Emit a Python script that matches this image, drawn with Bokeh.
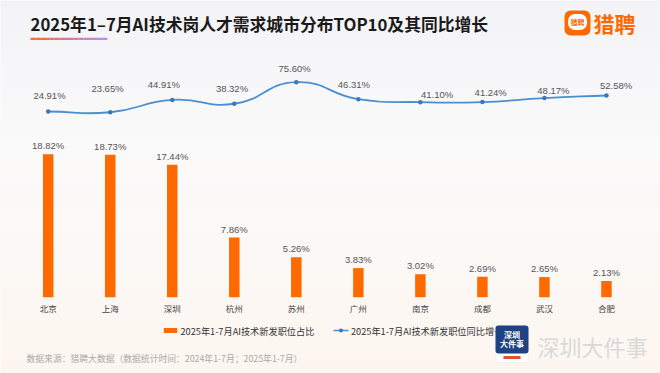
import numpy as np
from bokeh.plotting import figure
from bokeh.models import ColumnDataSource, LabelSet, Label, Range1d, BoxAnnotation
from bokeh.core.properties import value
from bokeh.embed import file_html
from bokeh.resources import INLINE

# ---------------- data ----------------
cities = ["北京", "上海", "深圳", "杭州", "苏州", "广州", "南京", "成都", "武汉", "合肥"]
share = [18.82, 18.73, 17.44, 7.86, 5.26, 3.83, 3.02, 2.69, 2.65, 2.13]
growth = [24.91, 23.65, 44.91, 38.32, 75.60, 46.31, 41.10, 41.24, 48.17, 52.58]
title_text = "2025年1–7月AI技术岗人才需求城市分布TOP10及其同比增长"
legend_bar = "2025年1-7月AI技术新发职位占比"
legend_line = "2025年1-7月AI技术新发职位同比增长"
source_note = "数据来源：猎聘大数据（数据统计时间：2024年1-7月；2025年1-7月）"

# ---------------- style / layout ----------------
W, H = 660, 373
XSTEP = 62.03          # px per category
X0 = 47.7              # px of first category
BAR_ZERO_Y = 296.7     # px from top for 0 %
BAR_SCALE = 7.6        # px per %
LINE_ZERO_Y = 125.4    # px from top for 0 %
LINE_SCALE = 0.578     # px per %
ORANGE = "#ff6a00"
BLUE = "#4a8fd0"
DOT = "#3a78bd"
lbl_dx = [1.3, -2.7, -8.4, -2.3, -1.7, -4.4, 16.7, 8.3, 9.0, 9.7]
lbl_dy = [16, 23.4, 15, 15.4, 13.4, 14.3, 7.7, 10, 7.3, 10.4]

BAR_BASE = H - BAR_ZERO_Y
LINE_BASE = H - LINE_ZERO_Y
xs, xe = -X0 / XSTEP, (W - X0) / XSTEP
ys, ye = -BAR_BASE / BAR_SCALE, (H - BAR_BASE) / BAR_SCALE
ls, le = -LINE_BASE / LINE_SCALE, (H - LINE_BASE) / LINE_SCALE


def dx(px_x):
    return (px_x - X0) / XSTEP


def dy(px_y):
    return ((H - px_y) - BAR_BASE) / BAR_SCALE


p = figure(width=W, height=H, output_backend="svg", toolbar_location=None,
           x_range=Range1d(xs, xe), y_range=Range1d(ys, ye),
           x_axis_location=None, y_axis_location=None, min_border=0,
           outline_line_color=None, background_fill_color="#faf8f7",
           border_fill_color="#faf8f7")
p.grid.visible = False
p.extra_y_ranges = {"growth": Range1d(ls, le)}

# background gradient bands
stops = [(0, (243, 243, 247)), (150, (251, 250, 250)), (373, (253, 246, 240))]


def bg_col(y):
    for (y0, c0), (y1, c1) in zip(stops[:-1], stops[1:]):
        if y0 <= y <= y1:
            t = (y - y0) / (y1 - y0)
            return "#%02x%02x%02x" % tuple(int(round(a + (b - a) * t)) for a, b in zip(c0, c1))
    return "#%02x%02x%02x" % stops[-1][1]


band_top = list(range(0, 380, 8))
p.quad(left=xs, right=xe, top=[dy(t) for t in band_top], bottom=[dy(t + 8) for t in band_top],
       fill_color=[bg_col(t + 4) for t in band_top], line_color=None)

idx = list(range(len(cities)))
src = ColumnDataSource(dict(
    idx=idx, city=cities, share=share, growth=growth,
    share_lbl=["%.2f%%" % v for v in share],
    growth_lbl=["%.2f%%" % v for v in growth],
    gdx=lbl_dx, gdy=lbl_dy,
))

# bars
p.vbar(x="idx", top="share", bottom=0, width=10.5 / XSTEP, source=src,
       fill_color=ORANGE, line_color=None)

# smoothed line (bezier segments, control points derived from the data)
px = np.array(idx, dtype=float) * XSTEP
py = np.array(growth) * LINE_SCALE
n = len(px)
cp_in, cp_out = [], []
for i in range(n):
    prev = (px[i - 1], py[i - 1]) if i > 0 else (px[i], py[i])
    nxt = (px[i + 1], py[i + 1]) if i < n - 1 else (px[i], py[i])
    vx, vy = nxt[0] - prev[0], nxt[1] - prev[1]
    d0 = np.hypot(px[i] - prev[0], py[i] - prev[1])
    d1 = np.hypot(nxt[0] - px[i], nxt[1] - py[i])
    s = d0 + d1 if d0 + d1 > 0 else 1
    cp_in.append((px[i] - vx * 0.5 * d0 / s, py[i] - vy * 0.5 * d0 / s))
    cp_out.append((px[i] + vx * 0.5 * d1 / s, py[i] + vy * 0.5 * d1 / s))
bz = dict(
    x0=[px[i] / XSTEP for i in range(n - 1)], y0=[py[i] / LINE_SCALE for i in range(n - 1)],
    x1=[px[i + 1] / XSTEP for i in range(n - 1)], y1=[py[i + 1] / LINE_SCALE for i in range(n - 1)],
    cx0=[cp_out[i][0] / XSTEP for i in range(n - 1)], cy0=[cp_out[i][1] / LINE_SCALE for i in range(n - 1)],
    cx1=[cp_in[i + 1][0] / XSTEP for i in range(n - 1)], cy1=[cp_in[i + 1][1] / LINE_SCALE for i in range(n - 1)],
)
p.bezier(source=ColumnDataSource(bz), x0="x0", y0="y0", x1="x1", y1="y1",
         cx0="cx0", cy0="cy0", cx1="cx1", cy1="cy1",
         line_color=BLUE, line_width=1.8, y_range_name="growth")
p.scatter(x="idx", y="growth", source=src, size=4.5, fill_color=DOT,
          line_color=None, y_range_name="growth")

NUMFONT = value("Liberation Sans")
CJK = value("Noto Sans CJK SC")

p.add_layout(LabelSet(x="idx", y="share", text="share_lbl", source=src, y_offset=8.3,
                      text_align="center", text_baseline="middle", text_font=NUMFONT,
                      text_font_size="9.5px", text_color="#555555"))
p.add_layout(LabelSet(x="idx", y="growth", text="growth_lbl", source=src,
                      x_offset="gdx", y_offset="gdy", y_range_name="growth",
                      text_align="center", text_baseline="middle", text_font=NUMFONT,
                      text_font_size="9.5px", text_color="#555555"))
p.add_layout(LabelSet(x="idx", y=0, text="city", source=src, y_offset=-10.6,
                      text_align="center", text_baseline="middle", text_font=CJK,
                      text_font_size="8.5px", text_color="#444444"))

# title
p.text(x=[dx(30)], y=[dy(23.3)], text=[title_text], text_baseline="middle",
       text_align="left", text_font=CJK, text_font_style="bold",
       text_font_size="16.8px", text_color="#1a1a1a")
# gradient underline
g0, g1 = (255, 106, 42), (181, 140, 255)
nseg = 16
for k in range(nseg):
    t = (k + 0.5) / nseg
    c = "#%02x%02x%02x" % tuple(int(a + (b - a) * t) for a, b in zip(g0, g1))
    x_a = 30 + (106.7 - 30) * k / nseg
    x_b = 30 + (106.7 - 30) * (k + 1) / nseg
    p.quad(left=dx(x_a), right=dx(x_b) + 0.002, top=dy(37.3), bottom=dy(39.6),
           fill_color=c, line_color=None)

# legend
p.quad(left=dx(163.3), right=dx(176.7), top=dy(327.5), bottom=dy(332.5),
       fill_color=ORANGE, line_color=None)
p.text(x=[dx(180)], y=[dy(330)], text=[legend_bar], text_align="left", text_baseline="middle",
       text_font=CJK, text_font_size="9.2px", text_color="#333333")
p.segment(x0=[dx(333)], y0=[dy(330)], x1=[dx(348)], y1=[dy(330)], line_color=BLUE, line_width=1.5)
p.scatter(x=[dx(340.5)], y=[dy(330)], size=4, fill_color=DOT, line_color=None)
p.text(x=[dx(350.5)], y=[dy(330)], text=[legend_line], text_align="left", text_baseline="middle",
       text_font=CJK, text_font_size="9.2px", text_color="#333333")

# source note
p.text(x=[dx(26)], y=[dy(358)], text=[source_note], text_align="left", text_baseline="middle",
       text_font=CJK, text_font_size="8.8px", text_color="#aaaaaa")

# logo (top right)
p.add_layout(BoxAnnotation(left=dx(564), right=dx(590), top=dy(10), bottom=dy(35),
                           fill_color=ORANGE, fill_alpha=1, line_color=None, border_radius=6))
p.add_layout(BoxAnnotation(left=dx(567.5), right=dx(586.5), top=dy(13.5), bottom=dy(29.5),
                           fill_color="white", fill_alpha=1, line_color=None, border_radius=7))
p.add_layout(Label(x=dx(577), y=dy(21.5), text="猎聘", text_align="center", text_baseline="middle",
                   text_font="Noto Sans CJK SC", text_font_style="bold", text_font_size="7px",
                   text_color=ORANGE))
p.add_layout(Label(x=dx(593), y=dy(22.5), text="猎聘", text_align="left", text_baseline="middle",
                   text_font="Noto Sans CJK SC", text_font_style="bold", text_font_size="21px",
                   text_color=ORANGE))

# watermark
p.add_layout(BoxAnnotation(left=dx(495), right=dx(528), top=dy(325), bottom=dy(362),
                           fill_color="white", fill_alpha=1, line_color="#dddddd", border_radius=3))
p.add_layout(BoxAnnotation(left=dx(495), right=dx(528), top=dy(325), bottom=dy(353),
                           fill_color="#1f4283", fill_alpha=1, line_color=None, border_radius=3))
p.add_layout(BoxAnnotation(left=dx(503), right=dx(520), top=dy(355.5), bottom=dy(358.5),
                           fill_color="#e0533a", fill_alpha=1, line_color=None))
p.add_layout(Label(x=dx(511.5), y=dy(333.5), text="深圳", text_align="center", text_baseline="middle",
                   text_font="Noto Sans CJK SC", text_font_style="bold", text_font_size="8px",
                   text_color="white"))
p.add_layout(Label(x=dx(511.5), y=dy(343), text="大件事", text_align="center", text_baseline="middle",
                   text_font="Noto Sans CJK SC", text_font_style="bold", text_font_size="8px",
                   text_color="white"))
p.add_layout(Label(x=dx(537), y=dy(345), text="深圳大件事", text_align="left", text_baseline="middle",
                   text_font="Noto Sans CJK SC", text_font_size="22px", text_color="#d9d9d9"))

open("out.html", "w").write(file_html(p, INLINE))
